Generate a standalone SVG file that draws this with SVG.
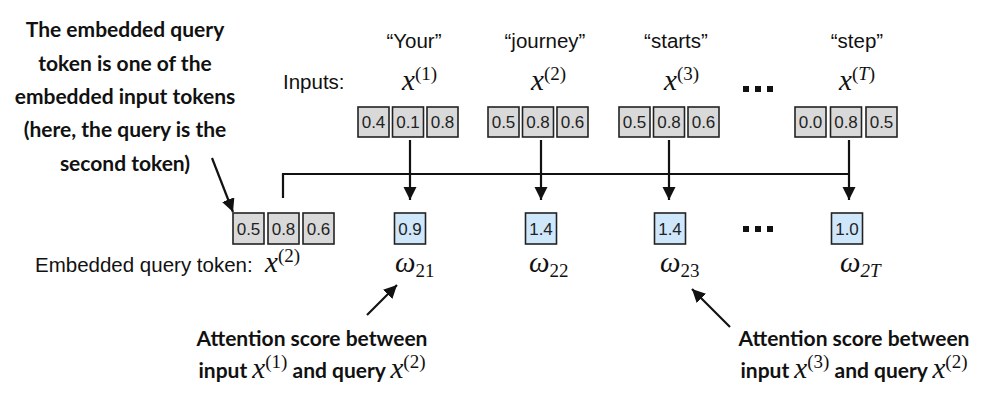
<svg xmlns="http://www.w3.org/2000/svg" width="986" height="401" viewBox="0 0 986 401">
<style>
.lbl{font-family:"Liberation Sans",Arial,sans-serif;font-size:20.5px;fill:#111}
.box{fill:#d9d9d9;stroke:#222;stroke-width:1.6}
.sbox{fill:#cfe7fb;stroke:#222;stroke-width:1.6}
.bt{font-family:"Liberation Sans",Arial,sans-serif;font-size:17px;fill:#222;text-anchor:middle}
.m{font-family:"Liberation Serif","Times New Roman",serif;font-size:29px;fill:#111}
.i{font-style:italic}
.sup{font-size:19px}
.ann{font-family:Lato,"Open Sans",sans-serif;font-weight:bold;font-size:21px;fill:#111;text-anchor:middle}
.dots{fill:#111}
.ln{stroke:#111;stroke-width:2.2;fill:none}
</style>
<defs>
<marker id="ah" viewBox="0 0 10 10" refX="10" refY="5" markerWidth="6" markerHeight="6" orient="auto" markerUnits="strokeWidth">
<path d="M0,0 L10,5 L0,10 Z" fill="#111"/>
</marker>
</defs>

<g id="annotation-query">
<text class="ann" x="125" y="37">The embedded query</text>
<text class="ann" x="125" y="71">token is one of the</text>
<text class="ann" x="125" y="104">embedded input tokens</text>
<text class="ann" x="125" y="137">(here, the query is the</text>
<text class="ann" x="125" y="171">second token)</text>
</g>

<g id="inputs-label"><text class="lbl" x="283" y="89">Inputs:</text></g>

<g id="input-1">
<text class="lbl" x="414" y="48" text-anchor="middle">“Your”</text>
<text class="m" x="402" y="90"><tspan class="i">x</tspan><tspan class="sup" dy="-10">(1)</tspan></text>
<rect class="box" x="358" y="107" width="31" height="30"/><text class="bt" x="373.5" y="128">0.4</text>
<rect class="box" x="392.5" y="107" width="31" height="30"/><text class="bt" x="408" y="128">0.1</text>
<rect class="box" x="427" y="107" width="31" height="30"/><text class="bt" x="442.5" y="128">0.8</text>
</g>

<g id="input-2">
<text class="lbl" x="545" y="48" text-anchor="middle">“journey”</text>
<text class="m" x="531" y="90"><tspan class="i">x</tspan><tspan class="sup" dy="-10">(2)</tspan></text>
<rect class="box" x="488" y="107" width="31" height="30"/><text class="bt" x="503.5" y="128">0.5</text>
<rect class="box" x="522.5" y="107" width="31" height="30"/><text class="bt" x="538" y="128">0.8</text>
<rect class="box" x="557" y="107" width="31" height="30"/><text class="bt" x="572.5" y="128">0.6</text>
</g>

<g id="input-3">
<text class="lbl" x="676" y="48" text-anchor="middle">“starts”</text>
<text class="m" x="664" y="90"><tspan class="i">x</tspan><tspan class="sup" dy="-10">(3)</tspan></text>
<rect class="box" x="619" y="107" width="31" height="30"/><text class="bt" x="634.5" y="128">0.5</text>
<rect class="box" x="653.5" y="107" width="31" height="30"/><text class="bt" x="669" y="128">0.8</text>
<rect class="box" x="688" y="107" width="31" height="30"/><text class="bt" x="703.5" y="128">0.6</text>
</g>

<g id="dots-top">
<rect class="dots" x="743" y="86" width="6" height="6"/>
<rect class="dots" x="755" y="86" width="6" height="6"/>
<rect class="dots" x="767" y="86" width="6" height="6"/>
</g>

<g id="input-T">
<text class="lbl" x="857" y="48" text-anchor="middle">“step”</text>
<text class="m" x="839" y="90"><tspan class="i">x</tspan><tspan class="sup" dy="-10">(<tspan class="i">T</tspan>)</tspan></text>
<rect class="box" x="795" y="107" width="31" height="30"/><text class="bt" x="810.5" y="128">0.0</text>
<rect class="box" x="830.5" y="107" width="31" height="30"/><text class="bt" x="846" y="128">0.8</text>
<rect class="box" x="866" y="107" width="31" height="30"/><text class="bt" x="881.5" y="128">0.5</text>
</g>

<g id="query">
<text class="lbl" x="35" y="272">Embedded query token:</text>
<text class="m" x="265" y="272"><tspan class="i">x</tspan><tspan class="sup" dy="-10">(2)</tspan></text>
<rect class="box" x="233" y="213" width="31" height="31"/><text class="bt" x="248.5" y="234.5">0.5</text>
<rect class="box" x="268" y="213" width="31" height="31"/><text class="bt" x="283.5" y="234.5">0.8</text>
<rect class="box" x="303" y="213" width="31" height="31"/><text class="bt" x="318.5" y="234.5">0.6</text>
</g>

<g id="score-21">
<rect class="sbox" x="394.5" y="213" width="31" height="31"/><text class="bt" x="410" y="234.5">0.9</text>
<text class="m" x="395" y="272"><tspan class="i">ω</tspan><tspan class="sup" dy="5">21</tspan></text>
</g>
<g id="score-22">
<rect class="sbox" x="525.5" y="213" width="31" height="31"/><text class="bt" x="541" y="234.5">1.4</text>
<text class="m" x="529" y="272"><tspan class="i">ω</tspan><tspan class="sup" dy="5">22</tspan></text>
</g>
<g id="score-23">
<rect class="sbox" x="654.5" y="213" width="31" height="31"/><text class="bt" x="670" y="234.5">1.4</text>
<text class="m" x="660" y="272"><tspan class="i">ω</tspan><tspan class="sup" dy="5">23</tspan></text>
</g>
<g id="dots-bottom">
<rect class="dots" x="743" y="226" width="6" height="6"/>
<rect class="dots" x="755" y="226" width="6" height="6"/>
<rect class="dots" x="767" y="226" width="6" height="6"/>
</g>
<g id="score-2T">
<rect class="sbox" x="831.5" y="213" width="31" height="31"/><text class="bt" x="847" y="234.5">1.0</text>
<text class="m" x="840" y="272"><tspan class="i">ω</tspan><tspan class="sup i" dy="5">2T</tspan></text>
</g>

<g id="annotation-21">
<text class="ann" x="312" y="346">Attention score between</text>
<text class="ann" x="312" y="378">input <tspan class="m i" font-weight="normal">x</tspan><tspan class="m sup" font-weight="normal" dy="-10">(1)</tspan><tspan dy="10"> and query </tspan><tspan class="m i" font-weight="normal">x</tspan><tspan class="m sup" font-weight="normal" dy="-10">(2)</tspan></text>
</g>
<g id="annotation-23">
<text class="ann" x="854" y="346">Attention score between</text>
<text class="ann" x="854" y="378">input <tspan class="m i" font-weight="normal">x</tspan><tspan class="m sup" font-weight="normal" dy="-10">(3)</tspan><tspan dy="10"> and query </tspan><tspan class="m i" font-weight="normal">x</tspan><tspan class="m sup" font-weight="normal" dy="-10">(2)</tspan></text>
</g>

<g id="connectors">
<path class="ln" d="M283,198 V174 H849"/>
<line class="ln" x1="410" y1="140" x2="410" y2="200" marker-end="url(#ah)"/>
<line class="ln" x1="541" y1="140" x2="541" y2="200" marker-end="url(#ah)"/>
<line class="ln" x1="669" y1="140" x2="669" y2="200" marker-end="url(#ah)"/>
<line class="ln" x1="849" y1="140" x2="849" y2="200" marker-end="url(#ah)"/>
<line class="ln" x1="212" y1="158" x2="233" y2="212" marker-end="url(#ah)"/>
<line class="ln" x1="367" y1="315" x2="397" y2="285" marker-end="url(#ah)"/>
<line class="ln" x1="730" y1="327" x2="692" y2="289" marker-end="url(#ah)"/>
</g>
</svg>
